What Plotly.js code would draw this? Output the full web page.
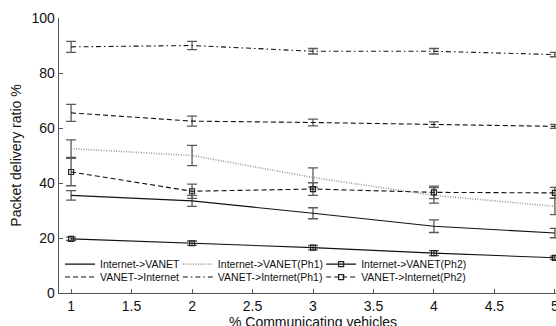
<!DOCTYPE html>
<html>
<head>
<meta charset="utf-8">
<script src="https://cdn.plot.ly/plotly-3.0.1.min.js"></script>
<style>
html, body { margin: 0; padding: 0; overflow: hidden; background: #fff; }
#chart { width: 570px; height: 334px; }
</style>
</head>
<body>
<div id="chart"></div>
<script>
// Data
var xVals = [1, 2, 3, 4, 5];
var seriesNames = [
  "Internet->VANET",
  "Internet->VANET(Ph1)",
  "Internet->VANET(Ph2)",
  "VANET->Internet",
  "VANET->Internet(Ph1)",
  "VANET->Internet(Ph2)"
];
var inetVanet      = [35.5, 33.5, 29.0, 24.3, 21.8];
var inetVanetErr   = [1.7, 2.0, 2.0, 2.3, 1.7];
var inetVanetPh1   = [52.5, 50.0, 42.0, 35.5, 31.5];
var inetVanetPh1Err= [3.2, 3.7, 3.5, 2.8, 3.0];
var inetVanetPh2   = [19.7, 18.1, 16.5, 14.5, 12.8];
var inetVanetPh2Err= [0.6, 0.8, 0.8, 0.9, 0.6];
var vanetInet      = [65.5, 62.5, 62.0, 61.2, 60.6];
var vanetInetErr   = [3.1, 1.8, 1.2, 1.0, 0.7];
var vanetInetPh1   = [89.5, 90.0, 87.9, 87.9, 86.7];
var vanetInetPh1Err= [2.0, 1.5, 1.0, 1.0, 0.8];
var vanetInetPh2   = [44.0, 37.0, 37.8, 36.6, 36.4];
var vanetInetPh2Err= [5.0, 2.6, 2.3, 2.3, 2.0];
var xTickVals = [1, 1.5, 2, 2.5, 3, 3.5, 4, 4.5, 5];
var yTickVals = [0, 20, 40, 60, 80, 100];

var FONT = "Liberation Sans, Arial, Helvetica, sans-serif";
var errColor = "#5a5a5a";

function tr(name, y, err, line, marker, legendId) {
  var t = {
    x: xVals, y: y, name: name, type: "scatter",
    mode: marker ? "lines+markers" : "lines",
    line: line,
    error_y: { type: "data", array: err, visible: true, color: errColor, thickness: 1.3, width: 5 },
    legend: legendId
  };
  if (marker) t.marker = marker;
  return t;
}
var sq = { symbol: "square-open", size: 5, color: "#222", line: { width: 1.2, color: "#222" } };

var data = [
  tr(seriesNames[0], inetVanet, inetVanetErr, { color: "#111", width: 1.1 }, null, "legend"),
  tr(seriesNames[3], vanetInet, vanetInetErr, { color: "#111", width: 1.1, dash: "5px,3px" }, null, "legend2"),
  tr(seriesNames[1], inetVanetPh1, inetVanetPh1Err, { color: "#9a9a9a", width: 1.6, dash: "1px,1.5px" }, null, "legend3"),
  tr(seriesNames[4], vanetInetPh1, vanetInetPh1Err, { color: "#111", width: 1.1, dash: "5px,3px,1.5px,3px" }, null, "legend4"),
  tr(seriesNames[2], inetVanetPh2, inetVanetPh2Err, { color: "#111", width: 1.1 }, sq, "legend5"),
  tr(seriesNames[5], vanetInetPh2, vanetInetPh2Err, { color: "#111", width: 1.1, dash: "5px,3px" }, sq, "legend6")
];

function leg(x, y) {
  return { x: x, y: y, xanchor: "left", yanchor: "middle", bgcolor: "rgba(0,0,0,0)",
           borderwidth: 0, font: { family: FONT, size: 10.5, color: "#111" },
           tracegroupgap: 0, itemwidth: 30 };
}
var col1 = 0.002, col2 = 0.234, col3 = 0.516, row1 = 0.105, row2 = 0.058;

var layout = {
  width: 570, height: 334,
  margin: { l: 59, r: 3, t: 18, b: 41 },
  paper_bgcolor: "#fff", plot_bgcolor: "#fff",
  font: { family: FONT, size: 14, color: "#111" },
  showlegend: true,
  legend: leg(col1, row1),
  legend2: leg(col1, row2),
  legend3: leg(col2, row1),
  legend4: leg(col2, row2),
  legend5: leg(col3, row1),
  legend6: leg(col3, row2),
  xaxis: {
    range: [0.9, 5.1], tickvals: xTickVals, ticktext: xTickVals.map(String),
    showline: true, linecolor: "#555", linewidth: 1.3, mirror: false,
    ticks: "inside", ticklen: 4, tickcolor: "#555", tickwidth: 1,
    showgrid: false, zeroline: false,
    tickfont: { family: FONT, size: 14, color: "#111" },
    title: { text: "% Communicating vehicles", font: { family: FONT, size: 14, color: "#111" }, standoff: 0 }
  },
  yaxis: {
    range: [0, 100], tickvals: yTickVals,
    showline: true, linecolor: "#555", linewidth: 1.3, mirror: false,
    ticks: "inside", ticklen: 4, tickcolor: "#555", tickwidth: 1,
    showgrid: false, zeroline: false,
    tickfont: { family: FONT, size: 14, color: "#111" },
    title: { text: "Packet delivery ratio %", font: { family: FONT, size: 14, color: "#111" }, standoff: 6 }
  }
};

Plotly.newPlot("chart", data, layout, { staticPlot: true, displayModeBar: false });
</script>
</body>
</html>
